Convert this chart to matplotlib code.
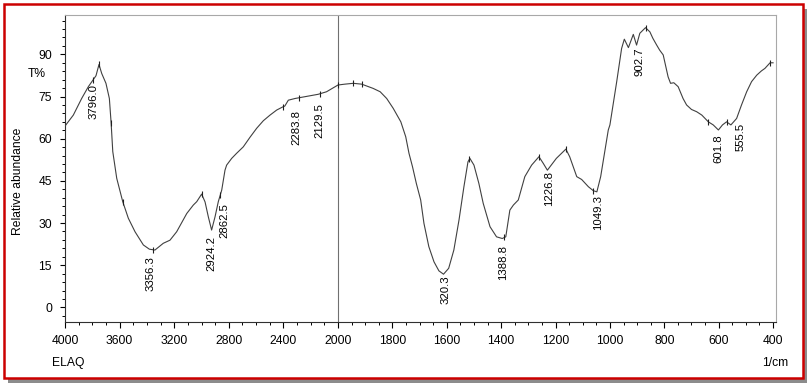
import numpy as np
import matplotlib
matplotlib.use("Agg")
import matplotlib.pyplot as plt
from matplotlib.patches import Rectangle

# ---------------- data ----------------
wavenumber = [4000, 3939, 3878, 3829, 3800, 3773, 3751, 3731, 3700, 3675, 3662, 3650,
              3621, 3577, 3536, 3487, 3426, 3382, 3341, 3280, 3231, 3182, 3108, 3060,
              3035, 2999, 2974, 2950, 2926, 2901, 2877, 2852, 2828, 2816, 2779, 2743,
              2694, 2645, 2596, 2547, 2498, 2449, 2401, 2390, 2364, 2315, 2145, 2084,
              2000, 1975, 1944, 1913, 1871, 1845, 1821, 1797, 1769, 1751, 1739, 1726,
              1712, 1696, 1684, 1666, 1647, 1629, 1612, 1593, 1574, 1555, 1537, 1522,
              1515, 1500, 1482, 1466, 1441, 1417, 1396, 1383, 1368, 1355, 1337, 1313,
              1288, 1261, 1245, 1230, 1197, 1162, 1148, 1122, 1104, 1079, 1061, 1048,
              1034, 1018, 1006, 1000, 975, 957, 947, 932, 914, 902, 890, 869, 853,
              842, 828, 817, 804, 786, 777, 765, 749, 731, 718, 700, 681, 662, 638,
              620, 601, 586, 571, 555, 534, 516, 497, 479, 460, 443, 430, 411, 400]
transmittance = [64.5, 68.4, 74.3, 78.5, 80.5, 82.4, 86.4, 83.2, 79.7, 74.3, 65.5, 55.4,
                 45.9, 37.6, 31.7, 26.9, 22.2, 20.7, 20.4, 22.8, 23.9, 26.9, 33.4, 36.4,
                 37.6, 40.3, 37.5, 32.2, 27.5, 32.2, 37.6, 41.7, 48.8, 50.6, 53.0, 54.8,
                 57.1, 60.5, 63.7, 66.4, 68.4, 70.2, 71.4, 71.6, 73.7, 74.3, 75.8, 76.7,
                 79.1, 79.4, 79.7, 79.4, 77.9, 76.7, 74.3, 70.8, 66.0, 60.7, 54.8, 50.0,
                 44.1, 38.2, 29.9, 21.6, 16.2, 13.0, 11.8, 13.9, 20.4, 31.1, 42.9, 51.8,
                 53.0, 50.6, 44.1, 37.0, 28.7, 25.1, 24.5, 25.1, 34.6, 36.4, 38.2, 46.5,
                 50.6, 53.6, 51.2, 48.8, 53.0, 56.3, 53.6, 46.5, 45.5, 42.9, 41.5, 41.1,
                 46.5, 56.0, 63.1, 64.9, 80.3, 92.1, 95.4, 92.4, 97.1, 93.3, 97.5, 99.5, 98.0,
                 95.7, 93.3, 91.5, 89.8, 82.0, 79.7, 79.9, 78.5, 74.3, 72.0, 70.4, 69.6, 68.4, 66.0,
                 64.9, 63.1, 64.9, 66.0, 64.9, 67.2, 72.0, 76.7, 80.3, 82.6, 84.1, 85.0, 87.0, 87.0]

peak_wn = [3796.0, 3356.3, 2924.2, 2862.5, 2283.8, 2129.5, 1620.3, 1388.8, 1226.8,
           1049.3, 902.7, 601.8, 555.5]
peak_text = ["3796.0", "3356.3", "2924.2", "2862.5", "2283.8", "2129.5", "320.3",
             "1388.8", "1226.8", "1049.3", "902.7", "601.8", "555.5"]

marker_wn = [3796, 3751, 3662, 3577, 3356, 2999, 2862, 2401, 2283, 2129, 2000, 1944,
             1913, 1517, 1388, 1261, 1162, 1061, 869, 638, 571, 411]

x_major = [4000, 3600, 3200, 2800, 2400, 2000, 1800, 1600, 1400, 1200, 1000, 800, 600, 400]
y_major = [0, 15, 30, 45, 60, 75, 90]

# ---------------- layout / style ----------------
W, H, DPI = 811, 388, 100
label_offsets = [(0.5, 3.3), (-2, 6.7), (0, 6.7), (3.7, 8), (-2.6, 12.5), (-1.3, 9.5),
                 (3.8, 2.7), (-1, 7.5), (0.8, 1.7), (1.2, 3.5), (3, 3.3), (0, 5), (10, -1.7)]

plt.rcParams['font.family'] = ['Liberation Sans', 'DejaVu Sans']

K = 0.50207  # compression of the 4000-2000 region


def fwd(x):
    x = np.asarray(x, float)
    return np.where(x <= 2000, x, 2000 + (x - 2000) * K)


def inv(u):
    u = np.asarray(u, float)
    return np.where(u <= 2000, u, 2000 + (u - 2000) / K)


fig = plt.figure(figsize=(W / DPI, H / DPI), dpi=DPI, facecolor='white')

# frame with shadow
fig.add_artist(Rectangle((8 / W, 1 - 383 / H), (803 - 4) / W, (378 - 4) / H,
                         transform=fig.transFigure, facecolor='#8c8c8c',
                         edgecolor='none', zorder=-20))
fig.add_artist(Rectangle((4 / W, 1 - 378 / H), (803 - 4) / W, (378 - 4) / H,
                         transform=fig.transFigure, facecolor='white',
                         edgecolor='#cc0000', lw=1.8, zorder=-10))

ax = fig.add_axes([65 / W, 1 - 322 / H, 710.5 / W, (322 - 15) / H])
ax.set_xscale('function', functions=(fwd, inv))
ax.set_xlim(4000, 391)
ax.set_ylim(-5.2, 104)

ax.plot(wavenumber, transmittance, color='#404040', lw=0.8, zorder=3,
        solid_joinstyle='round')

wn_arr = np.array(wavenumber[::-1], float)
t_arr = np.array(transmittance[::-1], float)
mk_y = np.interp(marker_wn, wn_arr, t_arr)
ax.plot(marker_wn, mk_y, ls='none', marker='|', ms=4, mew=0.8, color='#202020', zorder=4)

ax.axvline(2000, color='#707070', lw=0.8, zorder=2)

for wn, txt, (dx, dy) in zip(peak_wn, peak_text, label_offsets):
    yv = np.interp(wn, wn_arr, t_arr)
    ax.annotate(txt, xy=(wn, yv), xytext=(dx, -dy), textcoords='offset pixels',
                rotation=90, ha='center', va='top', fontsize=8.2, color='black',
                annotation_clip=False)

x_minor = list(range(4000, 2000, -100)) + list(range(2000, 399, -50))
ax.set_xticks(x_major)
ax.set_xticklabels([str(v) for v in x_major])
ax.set_xticks(x_minor, minor=True)
ax.set_yticks(y_major)
ax.set_yticks(list(range(-3, 103, 3)), minor=True)

ax.tick_params(axis='x', which='major', length=4.2, width=0.8, pad=5, labelsize=8.7, direction='out')
ax.tick_params(axis='x', which='minor', length=2.3, width=0.7, direction='out')
ax.tick_params(axis='y', which='major', length=3.8, width=0.8, pad=5.5, labelsize=8.7, direction='out')
ax.tick_params(axis='y', which='minor', length=2.2, width=0.7, direction='out')

for s in ['top', 'right']:
    ax.spines[s].set_color('#a8a8a8')
    ax.spines[s].set_linewidth(0.8)
for s in ['left', 'bottom']:
    ax.spines[s].set_color('#303030')
    ax.spines[s].set_linewidth(0.8)

fig.text(18 / W, 1 - 181.5 / H, 'Relative abundance', rotation=90, ha='center',
         va='center', fontsize=8.7)
fig.text(46 / W, 1 - 74 / H, 'T%', ha='right', va='center', fontsize=8.7)
fig.text(52 / W, 1 - 363 / H, 'ELAQ', ha='left', va='center', fontsize=8.7)
fig.text(762 / W, 1 - 363 / H, '1/cm', ha='left', va='center', fontsize=8.7)

fig.savefig('out.png', dpi=DPI, facecolor='white')
